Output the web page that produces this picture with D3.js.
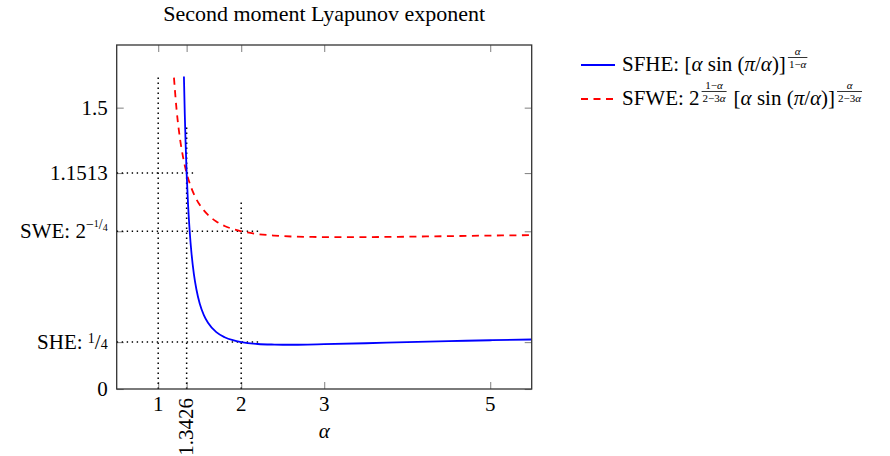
<!DOCTYPE html>
<html>
<head>
<meta charset="utf-8">
<script src="https://cdn.jsdelivr.net/npm/d3@7"></script>
<style>
  body { margin: 0; background: #fff; }
</style>
</head>
<body>
<div id="vizcont"></div>
<script>
// values
var alphaH = [1.31, 1.32, 1.33, 1.3426, 1.36, 1.38, 1.40, 1.43, 1.46, 1.5, 1.55, 1.6, 1.7, 1.8, 1.9, 2.0, 2.2, 2.4, 2.6, 2.8, 3.0, 3.5, 4.0, 4.5, 5.0, 5.5];
var sfhe   = [1.666, 1.470, 1.313, 1.151, 0.981, 0.837, 0.729, 0.613, 0.532, 0.456, 0.394, 0.353, 0.303, 0.276, 0.260, 0.250, 0.240, 0.237, 0.236, 0.237, 0.239, 0.244, 0.250, 0.255, 0.260, 0.264];
var alphaW = [1.19, 1.22, 1.25, 1.3, 1.3426, 1.4, 1.46, 1.5, 1.6, 1.7, 1.8, 1.9, 2.0, 2.2, 2.4, 2.6, 2.8, 3.0, 3.5, 4.0, 4.5, 5.0, 5.5];
var sfwe   = [1.660, 1.496, 1.376, 1.235, 1.151, 1.071, 1.012, 0.982, 0.928, 0.893, 0.869, 0.853, 0.841, 0.826, 0.818, 0.813, 0.811, 0.810, 0.810, 0.812, 0.815, 0.818, 0.820];

var xTicks = [1, 1.3426, 2, 3, 5];
var xTickLabels = ["1", "1.3426", "2", "3", "5"];
var yTicks = [0, 0.25, 0.8409, 1.1513, 1.5];

// dotted helper lines
var guideX = [1, 1.3426, 2];
var guideXTop = [1.663, 1.40, 1.0];
var guideY = [1.1513, 0.8409, 0.25];
var guideYEnd = [1.46, 2.21, 2.21];

var margin = {top: 45, left: 116.7};
var width = 415, height = 344;

var svg = d3.select("#vizcont").append("svg")
    .attr("width", 890).attr("height", 456)
    .attr("font-family", "Liberation Serif, DejaVu Serif, serif");
var g = svg.append("g")
    .attr("transform", "translate(" + margin.left + "," + margin.top + ")");

var x = d3.scaleLinear().domain([0.5, 5.5]).range([0, width]);
var y = d3.scaleLinear().domain([0, 1.834]).range([height, 0]);

// tick marks on all four sides, pointing inward
function tickStyle(sel) {
  sel.select(".domain").remove();
  sel.selectAll(".tick line").attr("stroke", "#8a8a8a").attr("stroke-width", 1.1);
}
g.append("g").attr("transform", "translate(0," + height + ")")
  .call(d3.axisBottom(x).tickValues(xTicks).tickSize(-7).tickFormat("")).call(tickStyle);
g.append("g")
  .call(d3.axisTop(x).tickValues(xTicks).tickSize(-7).tickFormat("")).call(tickStyle);
g.append("g")
  .call(d3.axisLeft(y).tickValues(yTicks).tickSize(-7).tickFormat("")).call(tickStyle);
g.append("g").attr("transform", "translate(" + width + ",0)")
  .call(d3.axisRight(y).tickValues(yTicks).tickSize(-7).tickFormat("")).call(tickStyle);

// dotted guides
var dotted = "1.4,3.6";
g.selectAll("line.gv").data(guideX).enter().append("line")
  .attr("class", "gv")
  .attr("x1", function(d) { return x(d); }).attr("x2", function(d) { return x(d); })
  .attr("y1", y(0)).attr("y2", function(d, i) { return y(guideXTop[i]); })
  .attr("stroke", "#000").attr("stroke-width", 1.5).attr("stroke-dasharray", dotted);
g.selectAll("line.gh").data(guideY).enter().append("line")
  .attr("class", "gh")
  .attr("x1", x(0.5)).attr("x2", function(d, i) { return x(guideYEnd[i]); })
  .attr("y1", function(d) { return y(d); }).attr("y2", function(d) { return y(d); })
  .attr("stroke", "#000").attr("stroke-width", 1.5).attr("stroke-dasharray", dotted);

// curves
g.append("clipPath").attr("id", "clip").append("rect")
  .attr("width", width).attr("height", height);
var line = d3.line()
  .x(function(d) { return x(d[0]); })
  .y(function(d) { return y(d[1]); })
  .curve(d3.curveMonotoneX);

g.append("path")
  .datum(d3.zip(alphaW, sfwe))
  .attr("clip-path", "url(#clip)")
  .attr("d", line)
  .attr("fill", "none").attr("stroke", "#ff0000").attr("stroke-width", 1.8)
  .attr("stroke-dasharray", "7,5.5");
g.append("path")
  .datum(d3.zip(alphaH, sfhe))
  .attr("clip-path", "url(#clip)")
  .attr("d", line)
  .attr("fill", "none").attr("stroke", "#0000ff").attr("stroke-width", 1.8);

// frame
g.append("rect").attr("width", width).attr("height", height)
  .attr("fill", "none").attr("stroke", "#333").attr("stroke-width", 1.3);

// x tick labels
xTicks.forEach(function(v, i) {
  if (v === 1.3426) {
    g.append("text")
      .attr("transform", "translate(" + (x(v) + 6.5) + "," + (height + 9) + ") rotate(-90)")
      .attr("text-anchor", "end").attr("font-size", 21).text(xTickLabels[i]);
  } else {
    g.append("text").attr("x", x(v)).attr("y", height + 22)
      .attr("text-anchor", "middle").attr("font-size", 21).text(xTickLabels[i]);
  }
});
g.append("text").attr("x", width / 2).attr("y", height + 49)
  .attr("text-anchor", "middle").attr("font-size", 21).attr("font-style", "italic").text("α");

// y tick labels
function yLabel(v) {
  return g.append("text").attr("x", -9).attr("y", y(v) + 7)
    .attr("text-anchor", "end").attr("font-size", 21);
}
yLabel(0).text("0");
yLabel(1.5).text("1.5");
yLabel(1.1513).text("1.1513");
var swe = yLabel(0.8409);
swe.append("tspan").text("SWE: 2");
swe.append("tspan").attr("font-size", 14).attr("dy", -9).text("−");
swe.append("tspan").attr("font-size", 10).attr("dy", -2).text("1");
swe.append("tspan").attr("font-size", 14).attr("dy", 2).text("/");
swe.append("tspan").attr("font-size", 10).attr("dy", 2).text("4");
var she = yLabel(0.25);
she.append("tspan").text("SHE: ");
she.append("tspan").attr("font-size", 14).attr("dy", -6).text("1");
she.append("tspan").attr("dy", 6).text("/");
she.append("tspan").attr("font-size", 14).text("4");

// title
svg.append("text").attr("x", margin.left + width / 2).attr("y", 21)
  .attr("text-anchor", "middle").attr("font-size", 22).text("Second moment Lyapunov exponent");

// legend
var leg = svg.append("g");
function addRuns(px, base, runs, size) {
  var t = leg.append("text").attr("x", px).attr("y", base).attr("font-size", size);
  runs.forEach(function(r) {
    t.append("tspan").attr("font-style", r[1] ? "italic" : "normal").text(r[0]);
  });
  return px + t.node().getComputedTextLength();
}
function addFrac(px, base, num, den) {
  var size = 11;
  var n = leg.append("text").attr("y", base - 16.5).attr("font-size", size);
  num.forEach(function(r) { n.append("tspan").attr("font-style", r[1] ? "italic" : "normal").text(r[0]); });
  var d = leg.append("text").attr("y", base - 3).attr("font-size", size);
  den.forEach(function(r) { d.append("tspan").attr("font-style", r[1] ? "italic" : "normal").text(r[0]); });
  var wn = n.node().getComputedTextLength(), wd = d.node().getComputedTextLength();
  var w = Math.max(wn, wd) + 2;
  n.attr("x", px + 2 + (w - wn) / 2);
  d.attr("x", px + 2 + (w - wd) / 2);
  leg.append("line").attr("x1", px + 2).attr("x2", px + 2 + w)
    .attr("y1", base - 13.5).attr("y2", base - 13.5)
    .attr("stroke", "#000").attr("stroke-width", 0.8);
  return px + w + 4;
}
var bracket = [["[", 0], ["α", 1], [" sin (", 0], ["π", 1], ["/", 0], ["α", 1], [")]", 0]];

leg.append("line").attr("x1", 581).attr("x2", 615).attr("y1", 65).attr("y2", 65)
  .attr("stroke", "#0000ff").attr("stroke-width", 1.8);
var px = addRuns(622, 71, [["SFHE: ", 0]].concat(bracket), 21);
addFrac(px, 71, [["α", 1]], [["1−", 0], ["α", 1]]);

leg.append("line").attr("x1", 581).attr("x2", 615).attr("y1", 99).attr("y2", 99)
  .attr("stroke", "#ff0000").attr("stroke-width", 1.8).attr("stroke-dasharray", "7,5.5");
px = addRuns(622, 105, [["SFWE: 2", 0]], 21);
px = addFrac(px, 105, [["1−", 0], ["α", 1]], [["2−3", 0], ["α", 1]]);
px = addRuns(px + 5, 105, bracket, 21);
addFrac(px, 105, [["α", 1]], [["2−3", 0], ["α", 1]]);
</script>
</body>
</html>
